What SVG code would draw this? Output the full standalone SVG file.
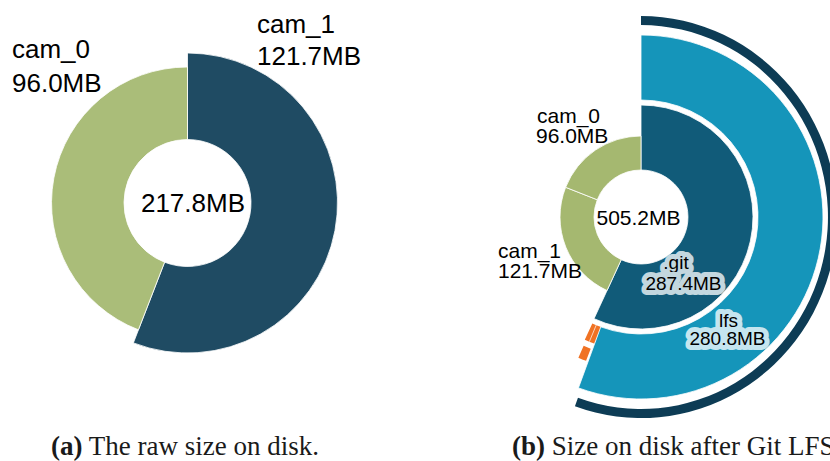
<svg xmlns="http://www.w3.org/2000/svg" width="830" height="461" viewBox="0 0 830 461">
  <style>
    .slice { stroke: #ffffff; stroke-width: 0.8; stroke-linejoin: round; }
    .lbl { font-family: "Liberation Sans", "DejaVu Sans", sans-serif; fill: #000000; }
    .big { font-size: 26px; }
    .mid { font-size: 21px; }
    .small { font-size: 19px; text-anchor: middle; paint-order: stroke; stroke-width: 10px; stroke-linejoin: round; stroke-linecap: round; }
    .cap { font-family: "Liberation Serif", "DejaVu Serif", serif; font-size: 27px; fill: #1a1a1a; }
    .cap .b { font-weight: bold; }
  </style>
  <rect width="830" height="461" fill="#ffffff"/>

  <!-- (a) raw size: two-slice donut centred at (187.5, 203) -->
  <g id="raw-size">
    <path id="raw-cam1" class="slice" fill="#1f4b63"
          d="M187.5,53 A150,150 0 1 1 133.38,342.89 L164.59,262.22 A63.5,63.5 0 1 0 187.5,139.5 Z"/>
    <path id="raw-cam0" class="slice" fill="#aabd79"
          d="M138.43,329.83 A136,136 0 0 1 187.5,67 L187.5,139.5 A63.5,63.5 0 0 0 164.59,262.22 Z"/>
    <text class="lbl big" x="257" y="33">cam_1<tspan x="257" y="65">121.7MB</tspan></text>
    <text class="lbl big" x="12" y="58">cam_0<tspan x="12" y="92">96.0MB</tspan></text>
    <text class="lbl big" x="193" y="212" text-anchor="middle">217.8MB</text>
  </g>

  <!-- (b) after Git LFS: sunburst centred at (641, 217) -->
  <g id="lfs-size">
    <!-- outermost level -->
    <path id="lfs-objects" fill="#0d3c55"
          d="M641,16 A196,201 0 1 1 574.93,406.24 L577.96,397.77 A187,192 0 1 0 641,25 Z"/>
    <!-- second level: children of .git -->
    <path id="lfs" class="slice" fill="#1595ba"
          d="M641,35 A182,182 0 1 1 578.45,387.92 L600.79,326.87 A117,117 0 1 0 641,100 Z"/>
    <path id="git-other-a" fill="#f07224"
          d="M600.41,326.73 L594.17,343.62 A135,135 0 0 1 584.80,339.74 L592.29,323.38 A117,117 0 0 0 600.41,326.73 Z"/>
    <line x1="596.22" y1="325.10" x2="589.34" y2="341.73" stroke="#ffffff" stroke-width="0.7"/>
    <path id="git-other-b" fill="#f07224"
          d="M590.71,348.72 L586.07,360.87 A154,154 0 0 1 578.37,357.68 L583.65,345.80 A141,141 0 0 0 590.71,348.72 Z"/>
    <!-- first level -->
    <path id="git" class="slice" fill="#115b79"
          d="M641,105 A112,112 0 1 1 594.02,318.67 L621.28,259.67 A47,47 0 1 0 641,170 Z"/>
    <path id="cam1" class="slice" fill="#a5b870"
          d="M607.02,290.53 A81,81 0 0 1 565.64,187.31 L597.27,199.77 A47,47 0 0 0 621.28,259.67 Z"/>
    <path id="cam0" class="slice" fill="#a5b870"
          d="M565.64,187.31 A81,81 0 0 1 641,136 L641,170 A47,47 0 0 0 597.27,199.77 Z"/>

    <text class="lbl mid" x="537" y="123">cam_0<tspan x="536" y="143">96.0MB</tspan></text>
    <text class="lbl mid" x="498" y="258">cam_1<tspan x="498" y="278">121.7MB</tspan></text>
    <text class="lbl mid" x="638.5" y="225" text-anchor="middle">505.2MB</text>

    <text class="lbl small" x="676" y="269" stroke="#c3d7df">.git<tspan x="683.5" y="290">287.4MB</tspan></text>
    <text class="lbl small" x="728.5" y="327" stroke="#c5e5ef">lfs<tspan x="727.5" y="345">280.8MB</tspan></text>
  </g>

  <!-- sub-figure captions -->
  <g id="captions">
    <text class="cap" x="51" y="455"><tspan class="b">(a)</tspan> The raw size on disk.</text>
    <text class="cap" x="512" y="455"><tspan class="b">(b)</tspan> Size on disk after Git LFS.</text>
  </g>
</svg>
